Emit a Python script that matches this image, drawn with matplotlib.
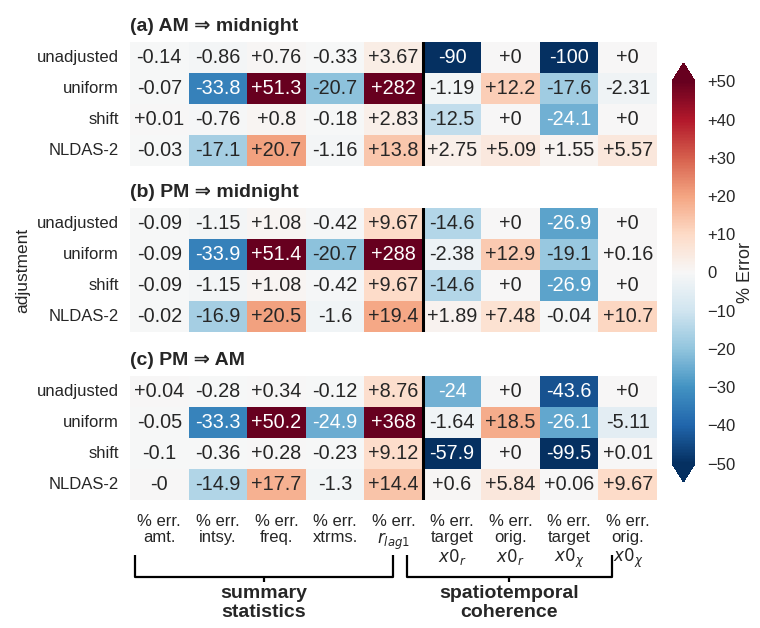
import numpy as np
import matplotlib
matplotlib.use("Agg")
import matplotlib.pyplot as plt
import seaborn as sns
from matplotlib.colors import Normalize
from matplotlib.cm import ScalarMappable
from matplotlib.lines import Line2D

sns.set_style("white")
plt.rcParams['font.family'] = ['Liberation Sans', 'DejaVu Sans']
plt.rcParams['text.color'] = '#262626'
plt.rcParams['axes.labelcolor'] = '#262626'
plt.rcParams['xtick.color'] = '#262626'
plt.rcParams['ytick.color'] = '#262626'

rows = ["unadjusted", "uniform", "shift", "NLDAS-2"]
cols = ["% err.\namt.", "% err.\nintsy.", "% err.\nfreq.", "% err.\nxtrms.",
        "% err.\n$r_{lag1}$", "% err.\ntarget\n$x0_r$", "% err.\norig.\n$x0_r$",
        "% err.\ntarget\n$x0_\\chi$", "% err.\norig.\n$x0_\\chi$"]
titles = ["(a) AM ⇒ midnight", "(b) PM ⇒ midnight", "(c) PM ⇒ AM"]

am_midnight = [
    [-0.14, -0.86, 0.76, -0.33, 3.67, -90, 0, -100, 0],
    [-0.07, -33.8, 51.3, -20.7, 282, -1.19, 12.2, -17.6, -2.31],
    [0.01, -0.76, 0.8, -0.18, 2.83, -12.5, 0, -24.1, 0],
    [-0.03, -17.1, 20.7, -1.16, 13.8, 2.75, 5.09, 1.55, 5.57],
]
pm_midnight = [
    [-0.09, -1.15, 1.08, -0.42, 9.67, -14.6, 0, -26.9, 0],
    [-0.09, -33.9, 51.4, -20.7, 288, -2.38, 12.9, -19.1, 0.16],
    [-0.09, -1.15, 1.08, -0.42, 9.67, -14.6, 0, -26.9, 0],
    [-0.02, -16.9, 20.5, -1.6, 19.4, 1.89, 7.48, -0.04, 10.7],
]
pm_am = [
    [0.04, -0.28, 0.34, -0.12, 8.76, -24, 0, -43.6, 0],
    [-0.05, -33.3, 50.2, -24.9, 368, -1.64, 18.5, -26.1, -5.11],
    [-0.1, -0.36, 0.28, -0.23, 9.12, -57.9, 0, -99.5, 0.01],
    [-0.0, -14.9, 17.7, -1.3, 14.4, 0.6, 5.84, 0.06, 9.67],
]
panels = [am_midnight, pm_midnight, pm_am]
cbar_ticks = [50, 40, 30, 20, 10, 0, -10, -20, -30, -40, -50]
group_labels = ["summary\nstatistics", "spatiotemporal\ncoherence"]

W, H = 760, 628
fig = plt.figure(figsize=(7.6, 6.28), dpi=100)

def fx(px):
    return px / W

def fy(py):
    return 1 - py / H

ax_tops = [42, 208, 376]
ax_h = 124
left_px, right_px = 130, 657
cmap = plt.get_cmap("RdBu_r")
norm = Normalize(vmin=-50, vmax=50)

axes = []
for i, (data, title, top) in enumerate(zip(panels, titles, ax_tops)):
    ax = fig.add_axes([fx(left_px), fy(top + ax_h), fx(right_px) - fx(left_px), ax_h / H])
    arr = np.array(data, dtype=float)
    annot = np.array([["{:+.3g}".format(v) for v in r] for r in arr])
    sns.heatmap(arr, ax=ax, cmap=cmap, vmin=-50, vmax=50, annot=annot, fmt="",
                cbar=False, annot_kws={"fontsize": 14.3}, xticklabels=cols if i == 2 else False,
                yticklabels=rows)
    ax.set_title(title, loc="left", fontsize=14, fontweight="bold", pad=8)
    ax.tick_params(axis="y", length=0, pad=8, labelsize=12, rotation=0)
    ax.tick_params(axis="x", length=0, pad=10, labelsize=12, rotation=0)
    ax.axvline(5, color="black", lw=2.2)
    for lab in ax.get_yticklabels():
        lab.set_rotation(0)
    if i == 1:
        ax.set_ylabel("adjustment", fontsize=12.5, labelpad=5)
    axes.append(ax)

for lab in axes[2].get_xticklabels():
    lab.set_linespacing(1.12)
    lab.set_verticalalignment("top")

# colorbar
cax = fig.add_axes([fx(672), fy(482), fx(695) - fx(672), (482 - 63) / H])
sm = ScalarMappable(norm=norm, cmap=cmap)
cb = fig.colorbar(sm, cax=cax, extend="both", extendfrac=0.048)
cb.set_ticks(cbar_ticks)
cb.set_ticklabels([("+%d" % t) if t > 0 else ("0" if t == 0 else "\u2212%d" % (-t)) for t in cbar_ticks])
cb.ax.tick_params(length=0, labelsize=12, pad=9)
cb.outline.set_visible(False)
cb.set_label("% Error", fontsize=13, labelpad=1)

# brackets
def bracket(x0, x1, xc, label):
    lw = 1.6
    y_top, y_bot, y_tick = fy(555), fy(577), fy(582)
    kw = dict(color="black", lw=lw, transform=fig.transFigure, solid_capstyle="butt")
    fig.add_artist(Line2D([fx(x0), fx(x0), fx(x1), fx(x1)], [y_top, y_bot, y_bot, y_top], **kw))
    fig.add_artist(Line2D([fx(xc), fx(xc)], [y_bot, y_tick], **kw))
    fig.text(fx(xc), fy(603), label, ha="center", va="center", fontsize=14,
             fontweight="bold", linespacing=1.1)

bracket(135, 393, 264, group_labels[0])
bracket(407, 612, 509, group_labels[1])

fig.savefig("out.png", dpi=100, facecolor="white")
